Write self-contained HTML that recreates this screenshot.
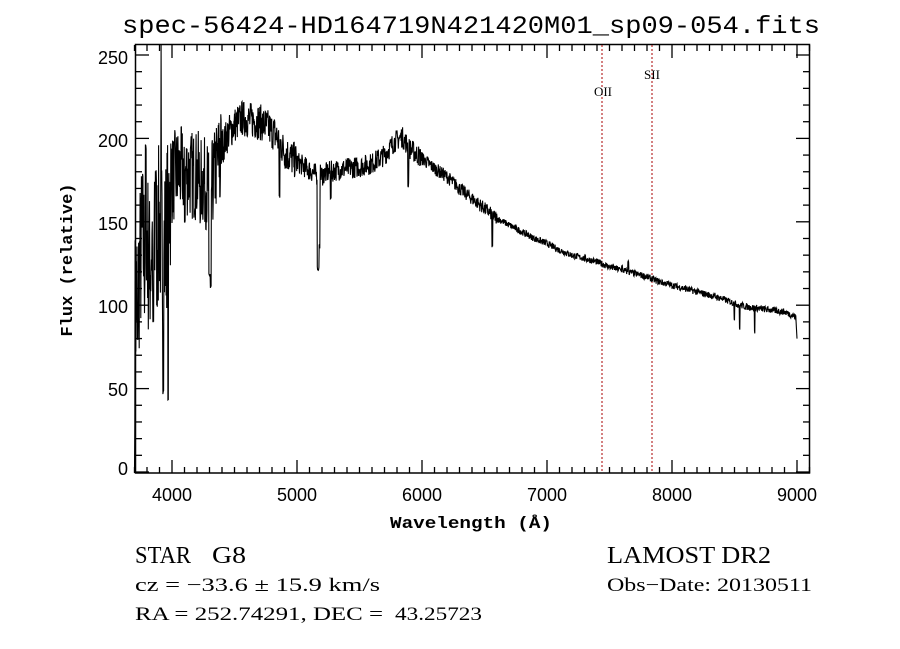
<!DOCTYPE html>
<html><head><meta charset="utf-8"><style>
html,body{margin:0;padding:0;background:#fff;}
svg{display:block;}
</style></head><body>
<svg id="s" width="900" height="649" viewBox="0 0 900 649" xmlns="http://www.w3.org/2000/svg">
<rect width="900" height="649" fill="#fff"/>
<text x="122" y="33" font-family="Liberation Mono, monospace" font-size="25" textLength="698" lengthAdjust="spacingAndGlyphs">spec-56424-HD164719N421420M01_sp09-054.fits</text>
<g id="ticks" stroke="#000" stroke-width="1.3"></g>
<rect x="135.5" y="44.5" width="674" height="428.5" fill="none" stroke="#000" stroke-width="1.5"/>
<line x1="602" y1="45" x2="602" y2="473" stroke="#a00" stroke-width="1" stroke-dasharray="2,2"/>
<line x1="652" y1="45" x2="652" y2="473" stroke="#a00" stroke-width="1" stroke-dasharray="2,2"/>
<text x="603" y="96" font-family="Liberation Serif, serif" font-size="13" text-anchor="middle">OII</text>
<text x="652" y="79" font-family="Liberation Serif, serif" font-size="13" text-anchor="middle">SII</text>
<polyline id="spec" fill="none" stroke="#000" stroke-width="1.1" points=""/>
<g font-family="Liberation Sans, sans-serif" font-size="18" text-anchor="end">
<text x="128" y="64">250</text><text x="128" y="147">200</text><text x="128" y="230">150</text>
<text x="128" y="313">100</text><text x="128" y="396">50</text><text x="128" y="475">0</text>
</g>
<g font-family="Liberation Sans, sans-serif" font-size="18" text-anchor="middle">
<text x="172" y="501">4000</text><text x="297" y="501">5000</text><text x="422" y="501">6000</text>
<text x="547" y="501">7000</text><text x="672" y="501">8000</text><text x="797" y="501">9000</text>
</g>
<text x="390" y="528" font-family="Liberation Mono, monospace" font-size="17" font-weight="bold" textLength="162" lengthAdjust="spacingAndGlyphs">Wavelength (Å)</text>
<text transform="translate(72,260) rotate(-90)" font-family="Liberation Mono, monospace" font-size="17" font-weight="bold" text-anchor="middle">Flux (relative)</text>
<g font-family="Liberation Serif, serif">
<text x="135" y="563" font-size="24" textLength="56" lengthAdjust="spacingAndGlyphs">STAR</text>
<text x="212" y="563" font-size="24" textLength="34" lengthAdjust="spacingAndGlyphs">G8</text>
<text x="607" y="563" font-size="24" textLength="164" lengthAdjust="spacingAndGlyphs">LAMOST DR2</text>
<text x="135" y="591" font-size="19" textLength="245" lengthAdjust="spacingAndGlyphs">cz = −33.6 ± 15.9 km/s</text>
<text x="607" y="591" font-size="19" textLength="205" lengthAdjust="spacingAndGlyphs">Obs−Date: 20130511</text>
<text x="135" y="620" font-size="19" textLength="248" lengthAdjust="spacingAndGlyphs">RA = 252.74291, DEC =</text>
<text x="395" y="620" font-size="19" textLength="87" lengthAdjust="spacingAndGlyphs">43.25723</text>
</g>
</svg>
<script>
(function(){
var X=function(w){return 172+(w-4000)*0.125;}, Y=function(f){return 472-1.668*f;};
var t=document.getElementById('ticks'),h='';
for(var w=3700;w<=9100;w+=100){var x=X(w),L=(w%1000==0)?13:6;
h+='<line x1="'+x+'" y1="473" x2="'+x+'" y2="'+(473-L)+'"/><line x1="'+x+'" y1="45" x2="'+x+'" y2="'+(45+L)+'"/>';}
for(var f=0;f<=250;f+=10){var y=Y(f),L=(f%50==0)?13:6;
h+='<line x1="136" y1="'+y+'" x2="'+(136+L)+'" y2="'+y+'"/><line x1="809" y1="'+y+'" x2="'+(809-L)+'" y2="'+y+'"/>';}
t.innerHTML=h;
var k=[[3700,0],[3703,95],[3720,110],[3740,120],[3760,140],[3780,130],[3800,140],[3820,120],[3840,140],[3860,130],[3880,140],[3900,150],[3912,140],[3920,140],[3935,130],[3960,150],[3980,165],[4000,175],[4040,180],[4080,180],[4120,180],[4160,178],[4200,178],[4240,175],[4280,172],[4320,172],[4360,185],[4400,195],[4450,203],[4500,208],[4560,212],[4620,211],[4700,210],[4760,207],[4820,203],[4860,198],[4900,192],[4960,188],[5000,186],[5060,183],[5120,180],[5160,178],[5200,178],[5260,180],[5320,181],[5400,182],[5500,183],[5600,185],[5700,190],[5780,198],[5840,201],[5900,194],[6000,188],[6100,182],[6200,177],[6300,170],[6400,164],[6500,158],[6600,152],[6700,148],[6800,144],[6900,140],[7000,137],[7100,133],[7200,130],[7300,128],[7400,126],[7500,123],[7600,121],[7700,119],[7800,117],[7900,114],[8000,112],[8100,110],[8200,108],[8300,106],[8400,104],[8500,101],[8600,99],[8700,98],[8800,97],[8900,96],[8990,93],[9000,80],[9002,15]];
var dips=[[3912,255,2],[3930,48,3],[3968,42,3],[3725,80,4],[3790,195,3],[3870,180,3],[3850,90,3],[4102,150,4],[4227,150,3],[4300,118,6],[4310,110,3],[4383,165,3],[4860,165,4],[5170,122,8],[5180,135,4],[5270,165,3],[5890,172,4],[6563,135,4],[6280,172,3],[7600,123,3],[7650,127,3],[8542,85,3],[8662,84,3],[8498,92,3]];
var seed=7;function r(){seed=(seed*16807)%2147483647;return seed/2147483647-0.5;}
function base(w){for(var i=0;i<k.length-1;i++){if(w<=k[i+1][0]){var a=k[i],b=k[i+1];return a[1]+(b[1]-a[1])*(w-a[0])/(b[0]-a[0]);}}return k[k.length-1][1];}
var p=[];
for(var w=3700;w<=9002;w+=2.5){var f=base(w);
var amp=w<4000?100:w<4400?55:w<5000?22:w<6000?13:w<6600?8:4;
if(w>3702&&w<8995)f+=r()*amp;
for(var j=0;j<dips.length;j++){var d=dips[j];if(Math.abs(w-d[0])<d[2]){f=d[1]+r()*3;}}
if(f<0)f=0;if(f>257)f=257;
p.push(X(w).toFixed(1)+','+Y(f).toFixed(1));}
document.getElementById('spec').setAttribute('points',p.join(' '));
})();
</script>
</body></html>
